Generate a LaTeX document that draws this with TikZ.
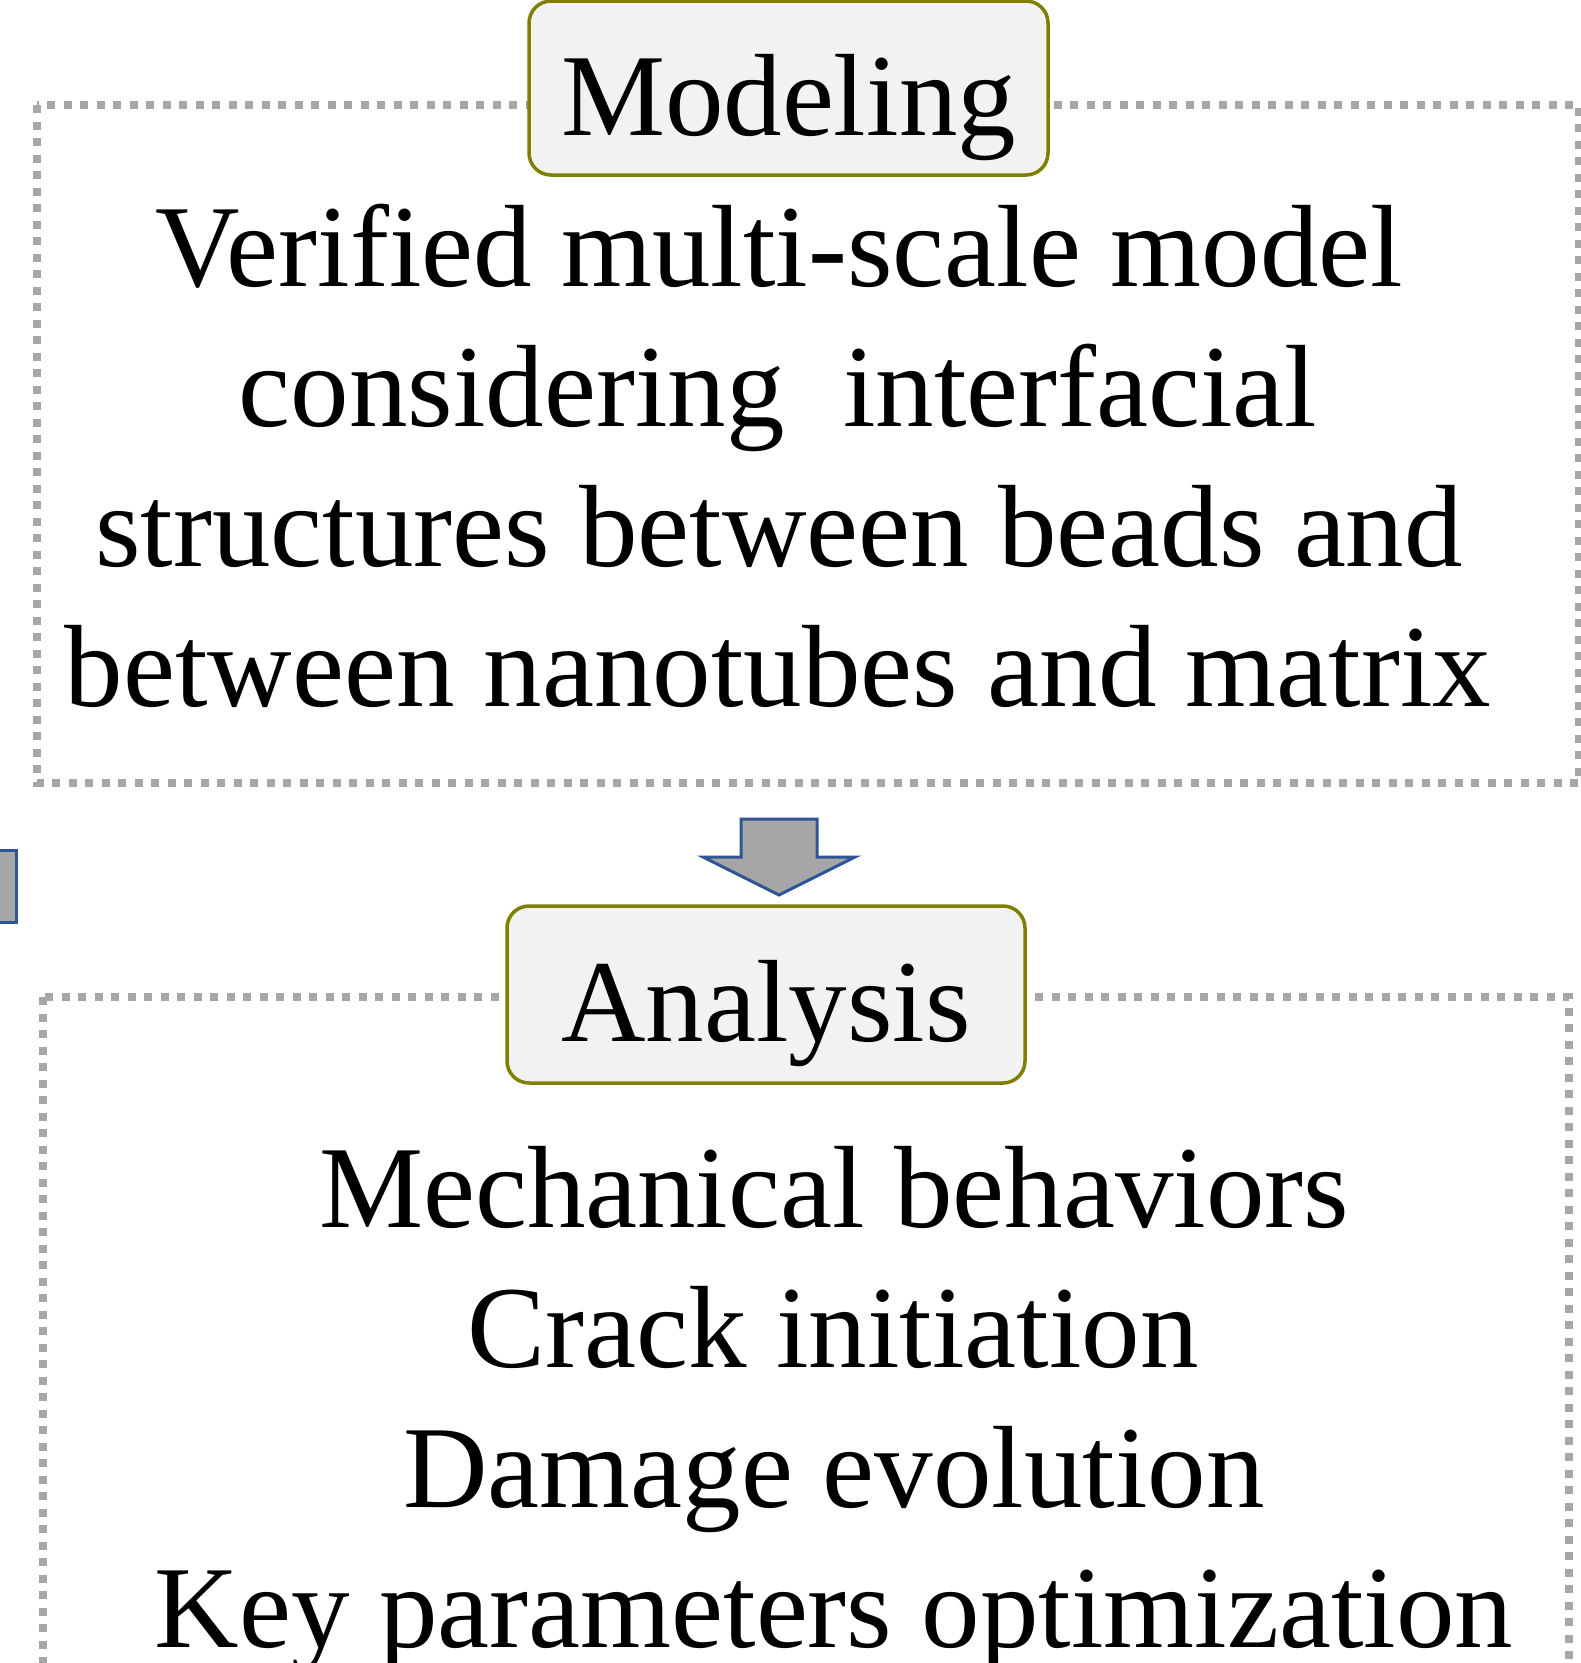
\documentclass[tikz,border=0pt]{standalone}
\usepackage{fontspec}
\setmainfont{Liberation Serif}
\definecolor{olivebd}{HTML}{7F7F00}
\definecolor{boxfill}{HTML}{F2F2F2}
\definecolor{dotgray}{HTML}{A6A6A6}
\definecolor{arrowbd}{HTML}{2F5597}
\definecolor{arrowfill}{HTML}{A6A6A6}

\begin{document}
\begin{tikzpicture}[x=1pt,y=-1pt,
  dotbox/.style={draw=dotgray, line width=7.5pt, dash pattern=on 8pt off 8.5pt},
  titlebox/.style={draw=olivebd, fill=boxfill, line width=3.5pt, rounded corners=22pt,
    inner sep=0pt, font=\fontsize{117}{140}\selectfont, text height=94pt, text depth=0pt},
  bodytext/.style={inner sep=0pt, anchor=base, font=\fontsize{117}{140}\selectfont},
  blockarrow/.style={draw=arrowbd, fill=arrowfill, line width=3pt, line join=miter}]
%%%%%%%%%%%%%%%%%%%%%%%%%%%%%%%%%%%%%%%%%%% HELP LINES
%\draw[help lines] (0,0) grid[step=100] (1581,1663);
\clip (0,0) rectangle (1581,1663);

%%%%%%%%%%%%%%%%%%%%%%%%%%%%%%%%%%%%%%%%%%% frames
\draw[dotbox] (37,105) rectangle (1579,783);
\draw[dotbox] (43,997) rectangle (1569,1720);

%%%%%%%%%%%%%%%%%%%%%%%%%%%%%%%%%%%%%%%%%%% titles
\node[titlebox, minimum width=519pt, minimum height=174pt](modeling) at (788.5,88){Modeling};
\node[titlebox, minimum width=518pt, minimum height=177pt](analysis) at (766,994.5){Analysis};

%%%%% modeling text
\node[bodytext](m1) at (779,286){Verified multi-scale model};
\node[bodytext](m2) at (778,426){considering~ interfacial};
\node[bodytext](m3) at (779,566){structures between beads and};
\node[bodytext](m4) at (778,706){between nanotubes and matrix};

%%%%% analysis text
\node[bodytext](a1) at (834,1227){Mechanical behaviors};
\node[bodytext](a2) at (833,1367){Crack initiation};
\node[bodytext](a3) at (834,1507){Damage evolution};
\node[bodytext](a4) at (834,1647){Key parameters optimization};

%%%%% block arrows
\draw[blockarrow] (741,819) -- (817,819) -- (817,857) -- (855,857) -- (779,895)
  -- (703,857) -- (741,857) -- cycle;
\draw[blockarrow] (-10,850) rectangle (16,922);
\end{tikzpicture}
\end{document}
